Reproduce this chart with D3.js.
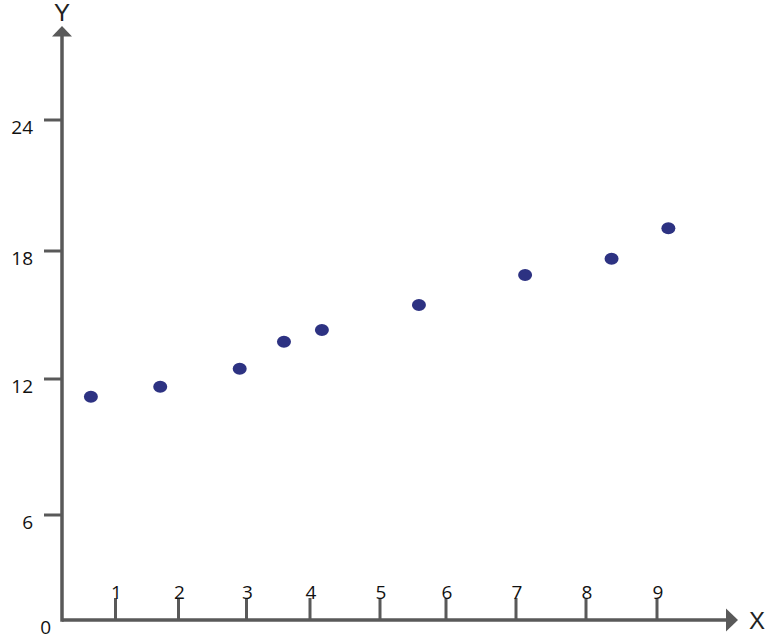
<!DOCTYPE html>
<html>
<head>
<meta charset="utf-8">
<script src="https://cdn.jsdelivr.net/npm/d3@7"></script>
<style>
  html, body { margin: 0; padding: 0; background: #fff; }
  svg { display: block; }
</style>
</head>
<body>
<svg id="chart" width="775" height="644"></svg>
<script>
// ---- data ----
const xValues = [0.54, 1.71, 2.90, 3.59, 4.17, 5.59, 7.13, 8.36, 9.16];
const yValues = [11.22, 11.66, 12.48, 13.75, 14.30, 15.47, 16.88, 17.64, 19.04];
const xTicks = [1, 2, 3, 4, 5, 6, 7, 8, 9];
const yTicks = [0, 6, 12, 18, 24];
const xAxisLabel = "X";
const yAxisLabel = "Y";

const svg = d3.select("#chart");
const axisColor = "#595959";
const dotColor = "#2d3282";
const tickFont = "'Open Sans', 'DejaVu Sans', sans-serif";

// hand-drawn axes: tick spacing is slightly uneven, so piecewise scales
const x = d3.scaleLinear()
  .domain([0, 1, 2, 3, 4, 5, 6, 7, 8, 9])
  .range([62, 115.5, 178.5, 246.5, 310, 380, 446, 516, 586, 657]);
const y = d3.scaleLinear()
  .domain([0, 6, 12, 18, 24])
  .range([620, 515, 379, 251, 120]);

const x0 = x(0), y0 = y(0);

// X axis line + arrow
svg.append("line")
  .attr("x1", x0).attr("x2", 728).attr("y1", y0).attr("y2", y0)
  .attr("stroke", axisColor).attr("stroke-width", 3.5);
svg.append("path")
  .attr("d", `M726,${y0 - 11.5} L738,${y0} L726,${y0 + 11.5} Z`)
  .attr("fill", axisColor);
svg.append("text")
  .attr("x", 757).attr("y", y0 + 9)
  .attr("text-anchor", "middle")
  .attr("font-family", "'Liberation Sans', Arial, sans-serif")
  .attr("font-size", 24).attr("fill", "#222")
  .text(xAxisLabel);

// Y axis line + arrow
svg.append("line")
  .attr("x1", x0).attr("x2", x0).attr("y1", y0 + 1.75).attr("y2", 35)
  .attr("stroke", axisColor).attr("stroke-width", 3.5);
svg.append("path")
  .attr("d", `M${x0 - 10},36.5 L${x0},26 L${x0 + 10},36.5 Z`)
  .attr("fill", axisColor);
svg.append("text")
  .attr("x", x0).attr("y", 21)
  .attr("text-anchor", "middle")
  .attr("font-family", "'Liberation Sans', Arial, sans-serif")
  .attr("font-size", 24).attr("fill", "#222")
  .text(yAxisLabel);

// X ticks (upward from axis)
const xt = svg.append("g");
xt.selectAll("line").data(xTicks).join("line")
  .attr("x1", d => x(d)).attr("x2", d => x(d))
  .attr("y1", y0).attr("y2", y0 - 22)
  .attr("stroke", axisColor).attr("stroke-width", 3);
xt.selectAll("text").data(xTicks).join("text")
  .attr("x", d => x(d) + 1).attr("y", y0 - 21)
  .attr("text-anchor", "middle")
  .attr("font-family", tickFont).attr("font-size", 19)
  .attr("fill", "#111")
  .text(d => d);

// Y ticks (leftward from axis)
const yt = svg.append("g");
yt.selectAll("line").data(yTicks.filter(d => d !== 0)).join("line")
  .attr("x1", x0).attr("x2", x0 - 18)
  .attr("y1", d => y(d)).attr("y2", d => y(d))
  .attr("stroke", axisColor).attr("stroke-width", 3);
yt.selectAll("text").data(yTicks).join("text")
  .attr("x", d => d === 0 ? x0 - 11 : x0 - 29)
  .attr("y", d => y(d) + 14)
  .attr("text-anchor", "end")
  .attr("font-family", tickFont).attr("font-size", 19)
  .attr("fill", "#111")
  .text(d => d);

// points
svg.append("g").selectAll("ellipse")
  .data(xValues.map((v, i) => ({ x: v, y: yValues[i] })))
  .join("ellipse")
  .attr("cx", d => x(d.x)).attr("cy", d => y(d.y))
  .attr("rx", 7).attr("ry", 6)
  .attr("fill", dotColor);
</script>
</body>
</html>
